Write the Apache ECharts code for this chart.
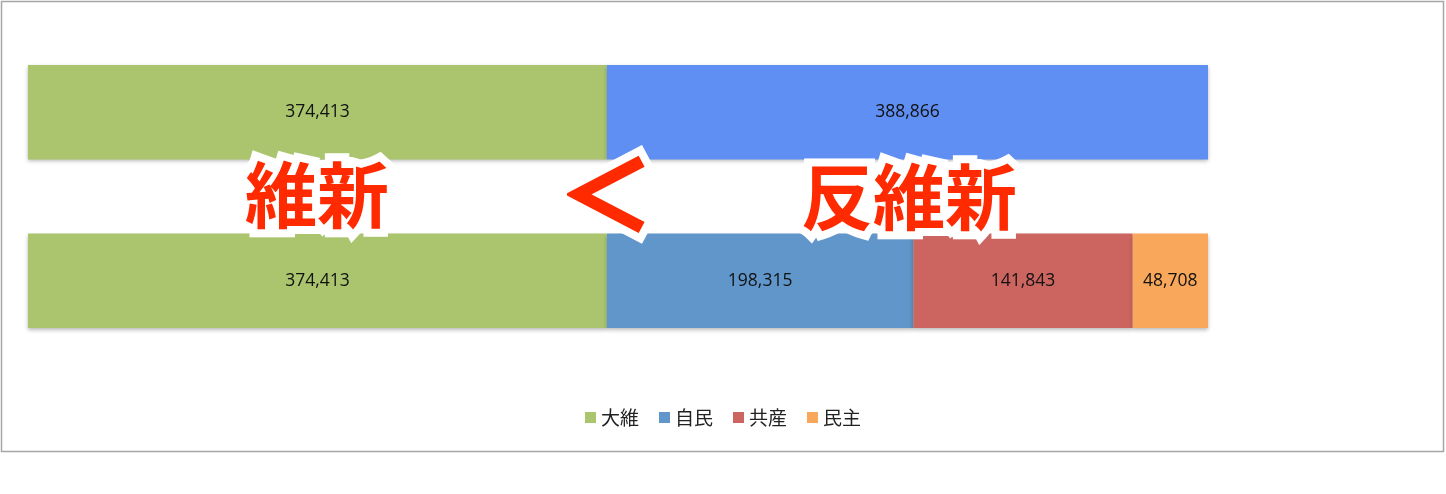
<!DOCTYPE html>
<html><head><meta charset="utf-8">
<script src="https://cdn.jsdelivr.net/npm/echarts@6/dist/echarts.min.js"></script>
<style>html,body{margin:0;padding:0;background:#fff}#c{width:1446px;height:494px}</style>
</head><body><div id="c"></div>
<script>
const categories = ['上段', '下段'];
const ishin = [374413, 374413];
const hanIshin = [388866, '-'];
const jimin = ['-', 198315];
const kyosan = ['-', 141843];
const minshu = ['-', 48708];
const legendNames = ['大維', '自民', '共産', '民主'];

const chart = echarts.init(document.getElementById('c'));
const fmt = p => Number(p.value).toLocaleString('en-US');
const mk = (name, data, color) => ({
  name, type: 'bar', stack: 'total', data, barCategoryGap: '44%',
  itemStyle: { color, shadowBlur: 4, shadowOffsetY: 2, shadowColor: 'rgba(0,0,0,0.28)' },
  label: { show: true, position: 'inside', color: '#111', fontSize: 17.5, fontFamily: 'Open Sans', formatter: fmt },
  emphasis: { disabled: true }
});
const bigText = (txt, cx, cy, size, thick) => {
  const font = 'bold ' + size + 'px "Noto Sans CJK JP"';
  const base = { text: txt, x: 0, y: 0, align: 'center', verticalAlign: 'middle', font };
  return [
    { type: 'text', x: cx, y: cy, z: 99, silent: true,
      style: Object.assign({}, base, { fill: '#ffffff', stroke: '#ffffff', lineWidth: 16 + (thick || 0), lineJoin: 'round',
               shadowBlur: 6, shadowColor: 'rgba(0,0,0,0.4)', shadowOffsetX: 1, shadowOffsetY: 2 }) },
    { type: 'text', x: cx, y: cy, z: 100, silent: true,
      style: Object.assign({}, base, { fill: '#ff2a00', stroke: '#ff2a00', lineWidth: thick || 0 }) }
  ];
};
chart.setOption({
  animation: false,
  grid: { left: 28, right: 238, top: 28, bottom: 129 },
  xAxis: { type: 'value', min: 0, max: 763279, show: false },
  yAxis: { type: 'category', data: categories, inverse: true, show: false },
  legend: {
    data: legendNames, top: 403, left: 'center', itemWidth: 11, itemHeight: 11, itemGap: 20,
    icon: 'rect', textStyle: { fontSize: 19, color: '#222', fontFamily: 'Noto Sans CJK JP' }
  },
  series: [
    mk('大維', ishin, '#abc56e'),
    mk('反維新', hanIshin, '#5f8ff2'),
    mk('自民', jimin, '#6096c9'),
    mk('共産', kyosan, '#cc6560'),
    mk('民主', minshu, '#f9a75a')
  ],
  graphic: [
    { type: 'rect', shape: { x: 1.5, y: 1.5, width: 1442, height: 450 }, style: { fill: 'none', stroke: '#a6a6a6', lineWidth: 1.5 }, z: 0, silent: true },
    ...bigText('維新', 317, 195, 72),
    ...bigText('＜', 606, 194, 94, 3),
    ...bigText('反維新', 909, 197, 72)
  ]
});
</script></body></html>
